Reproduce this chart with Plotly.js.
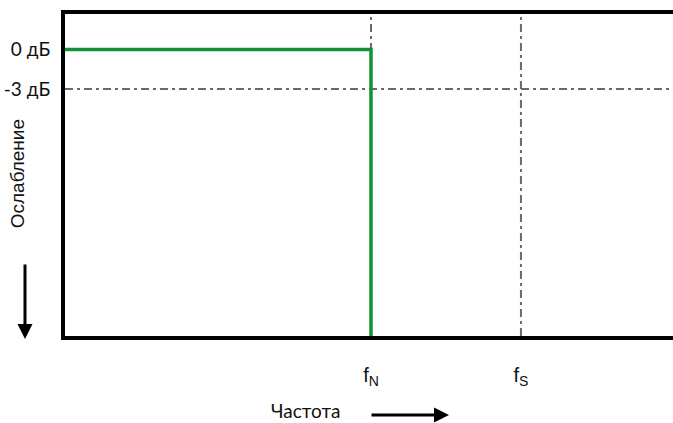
<!DOCTYPE html>
<html>
<head>
<meta charset="utf-8">
<script src="https://cdn.plot.ly/plotly-3.0.1.min.js"></script>
<style>html,body{margin:0;padding:0;background:#fff;overflow:hidden}</style>
</head>
<body>
<div id="chart" style="width:673px;height:423px"></div>
<script>
// Data
const responseFreq = [0, 1, 1];          // normalized frequency (f / fN)
const responseAtten = [0, 0, -22];        // attenuation, dB
const markerFreqs = [1, 1.49];            // fN, fS
const markerLabels = ['f<sub>N</sub>', 'f<sub>S</sub>'];
const levelValues = [0, -3];              // dB
const levelLabels = ['0 дБ', '-3 дБ'];
const cutoffLevel = -3;

const gray = '#6a6a6a';
const dashPat = '8px,4px,3px,4px';

const shapes = [
  {type: 'line', xref: 'paper', x0: 0, x1: 1, yref: 'y', y0: cutoffLevel, y1: cutoffLevel,
   line: {color: gray, width: 2, dash: dashPat}, layer: 'below'}
].concat(markerFreqs.map(f => ({
  type: 'line', xref: 'x', x0: f, x1: f, yref: 'paper', y0: 0, y1: 1,
  line: {color: gray, width: 2, dash: dashPat}, layer: 'below'
}))).concat([
  // top frame edge (frame is open on the right)
  {type: 'line', xref: 'paper', x0: -0.0066, x1: 1.02, yref: 'paper', y0: 1.0062, y1: 1.0062,
   line: {color: '#000', width: 4}}
]);

const data = [{
  x: responseFreq, y: responseAtten, type: 'scatter', mode: 'lines',
  line: {color: '#12913a', width: 3.5}, hoverinfo: 'skip', showlegend: false
}];

const W = 673, L = 65;
const xmax = (W - L) / 306;

const layout = {
  width: W, height: 423,
  margin: {l: L, r: 0, t: 14, b: 87},
  paper_bgcolor: '#fff', plot_bgcolor: '#fff',
  showlegend: false,
  xaxis: {
    range: [0, xmax], showgrid: false, zeroline: false,
    showline: true, linecolor: '#000', linewidth: 4, mirror: false,
    tickmode: 'array', tickvals: markerFreqs, ticktext: markerLabels,
    ticks: '', ticklabelstandoff: 18,
    tickfont: {family: 'Liberation Sans, Arial', size: 20, color: '#111'}
  },
  yaxis: {
    range: [-21.76, 2.7], showgrid: false, zeroline: false,
    showline: true, linecolor: '#000', linewidth: 4, mirror: false,
    tickmode: 'array', tickvals: levelValues, ticktext: levelLabels,
    ticks: '', ticklabelstandoff: 7,
    tickfont: {family: 'Lato, Open Sans, sans-serif', size: 19, color: '#111'}
  },
  shapes: shapes,
  annotations: [
    {text: 'Ослабление', xref: 'paper', yref: 'paper', x: -0.0775, y: 0.505,
     textangle: -90, showarrow: false, xanchor: 'center', yanchor: 'middle',
     font: {family: 'Liberation Sans, Arial', size: 19, color: '#111'}},
    {text: '', xref: 'paper', yref: 'paper', x: (25 - L) / (W - L), y: -0.0093,
     showarrow: true, ax: 0, ay: -76, arrowhead: 2, arrowsize: 1, arrowwidth: 3, arrowcolor: '#000'},
    {text: 'Частота', xref: 'paper', yref: 'paper', x: (305 - L) / (W - L), y: -0.230,
     showarrow: false, xanchor: 'center', yanchor: 'middle',
     font: {family: 'Lato, Open Sans, sans-serif', size: 19, color: '#111'}},
    {text: '', xref: 'paper', yref: 'paper', x: (449 - L) / (W - L), y: -0.245,
     showarrow: true, ax: -79, ay: 0, arrowhead: 2, arrowsize: 1, arrowwidth: 3, arrowcolor: '#000'}
  ]
};

Plotly.newPlot('chart', data, layout, {displayModeBar: false, staticPlot: true});
</script>
</body>
</html>
